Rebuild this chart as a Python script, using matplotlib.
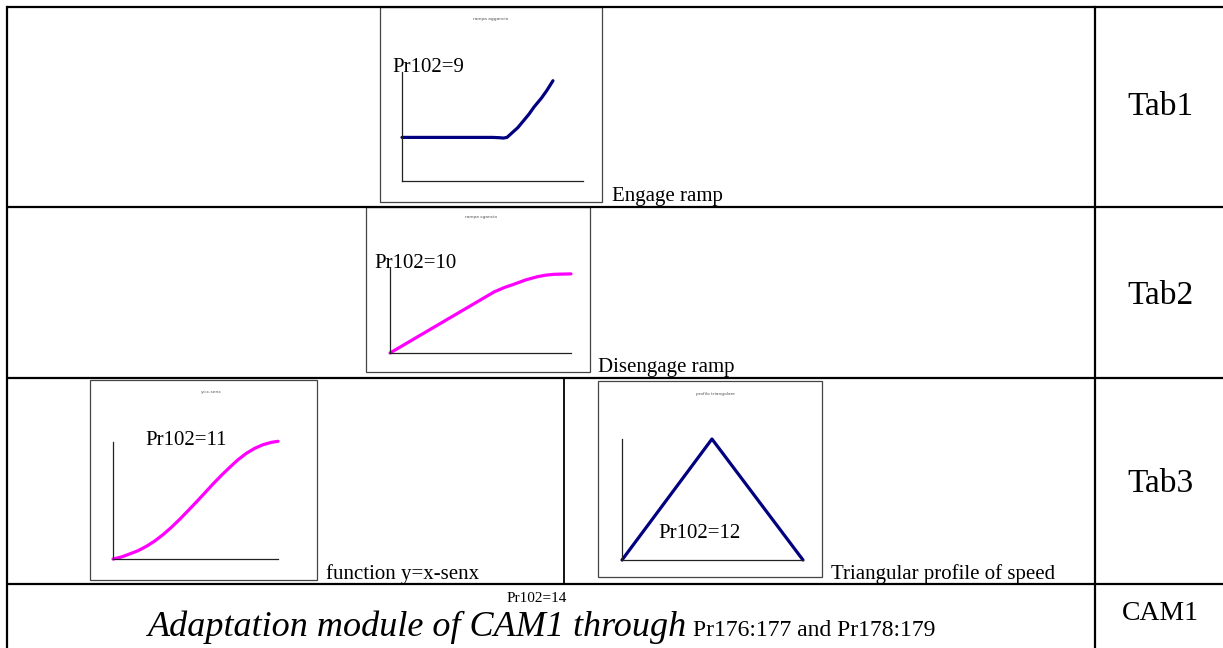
"""Parameter table with four small cam-profile sketches (Tab1..Tab3, CAM1)."""
import matplotlib
matplotlib.use("Agg")
import matplotlib.pyplot as plt
from matplotlib.patches import Rectangle

W, H = 1223, 648
SERIF = ["Liberation Serif", "DejaVu Serif"]

# --- data (axes fractions) ---
engage_x = [0.0, 0.50, 0.54, 0.56, 0.58, 0.60, 0.62, 0.64, 0.67, 0.70, 0.73,
            0.77, 0.80, 0.834]
engage_y = [0.40, 0.40, 0.397, 0.394, 0.40, 0.43, 0.46, 0.49, 0.55, 0.61, 0.68,
            0.76, 0.83, 0.92]

disengage_x = [0.0, 0.575, 0.63, 0.685, 0.75, 0.814, 0.86, 0.906, 1.0]
disengage_y = [0.0, 0.71, 0.76, 0.80, 0.85, 0.887, 0.905, 0.915, 0.92]

xsinx_x = [0.0, 0.051, 0.101, 0.152, 0.202, 0.253, 0.303, 0.354, 0.404, 0.455,
           0.505, 0.556, 0.606, 0.657, 0.707, 0.758, 0.808, 0.859, 0.909, 0.960, 1.0]
xsinx_y = [0.0, 0.017, 0.043, 0.071, 0.108, 0.154, 0.208, 0.271, 0.339, 0.413,
           0.487, 0.564, 0.641, 0.715, 0.783, 0.849, 0.903, 0.946, 0.977, 0.997, 1.006]

triangle_x = [0.0, 0.497, 1.0]
triangle_y = [0.0, 1.0, 0.0]

tab_labels = ["Tab1", "Tab2", "Tab3", "CAM1"]
pr_labels = ["Pr102=9", "Pr102=10", "Pr102=11", "Pr102=12", "Pr102=14"]
captions = ["Engage ramp", "Disengage ramp", "function y=x-senx",
            "Triangular profile of speed"]
mini_titles = ["rampa aggancio", "rampa sgancio", "y=x-senx", "profilo triangolare"]

NAVY = "#000080"
MAGENTA = "#ff00ff"

fig = plt.figure(figsize=(W / 100, H / 100), dpi=100)
bg = fig.add_axes([0, 0, 1, 1])
bg.set_xlim(0, W)
bg.set_ylim(H, 0)
bg.axis("off")

# table grid
rows = [7, 207, 378, 584]
for y in rows:
    bg.plot([7, 1240], [y, y], color="black", lw=1.6, solid_capstyle="butt")
bg.plot([7, 7], [7, 660], color="black", lw=1.6)
bg.plot([1095, 1095], [7, 660], color="black", lw=1.6)
bg.plot([564, 564], [378, 584], color="black", lw=1.3)


def px_rect(x0, y0, x1, y1):
    return [x0 / W, 1 - y1 / H, (x1 - x0) / W, (y1 - y0) / H]


def mini_plot(box, area, xs, ys, color, title, title_xy):
    bx0, by0, bx1, by1 = box
    bg.add_patch(Rectangle((bx0, by0), bx1 - bx0, by1 - by0, fill=False,
                           edgecolor="#444444", lw=0.9))
    bg.text(*title_xy, title, fontsize=3.2, color="#555555", ha="center", va="center")
    ax = fig.add_axes(px_rect(*area))
    ax.plot(xs, ys, color=color, lw=2.3, clip_on=False,
            solid_capstyle="round", solid_joinstyle="round")
    ax.set_xlim(0, 1)
    ax.set_ylim(0, 1)
    for s in ("top", "right"):
        ax.spines[s].set_visible(False)
    for s in ("left", "bottom"):
        ax.spines[s].set_color("#222222")
        ax.spines[s].set_linewidth(0.9)
    ax.set_xticks([])
    ax.set_yticks([])
    ax.patch.set_alpha(0)
    return ax


mini_plot((380, 7, 602, 202), (402, 72, 583, 181), engage_x, engage_y, NAVY,
          mini_titles[0], (491, 19))
mini_plot((366, 207, 590, 372), (390, 267, 571, 353), disengage_x, disengage_y,
          MAGENTA, mini_titles[1], (481, 217))
mini_plot((90, 380, 317, 580), (113, 442, 278, 559), xsinx_x, xsinx_y, MAGENTA,
          mini_titles[2], (211, 392))
mini_plot((598, 381, 822, 577), (622, 439, 803, 560), triangle_x, triangle_y, NAVY,
          mini_titles[3], (715, 394))

# Pr102 labels inside the sketches
pr_pos = [(392, 72), (374, 268), (145, 445), (658, 538)]
for (x, y), s in zip(pr_pos, pr_labels[:4]):
    bg.text(x, y, s, fontsize=15, family=SERIF, ha="left", va="baseline")

# captions next to the sketches
cap_pos = [(612, 201), (598, 372), (326, 579), (831, 579)]
for (x, y), s in zip(cap_pos, captions):
    bg.text(x, y, s, fontsize=15, family=SERIF, ha="left", va="baseline")

# right column labels
tab_y = [107, 296, 484, 614]
tab_size = [24, 24, 24, 20]
for y, s, fs in zip(tab_y, tab_labels, tab_size):
    bg.text(1160, y, s, fontsize=fs, family=SERIF, ha="center", va="center")

# bottom row
bg.text(537, 598, pr_labels[4], fontsize=11, family=SERIF, ha="center", va="center")
bg.text(148, 636, "Adaptation module of CAM1 through", fontsize=26,
        family=SERIF, style="italic", ha="left", va="baseline")
bg.text(693, 636, "Pr176:177 and Pr178:179", fontsize=17, family=SERIF,
        ha="left", va="baseline")

fig.savefig("out.png", dpi=100)
